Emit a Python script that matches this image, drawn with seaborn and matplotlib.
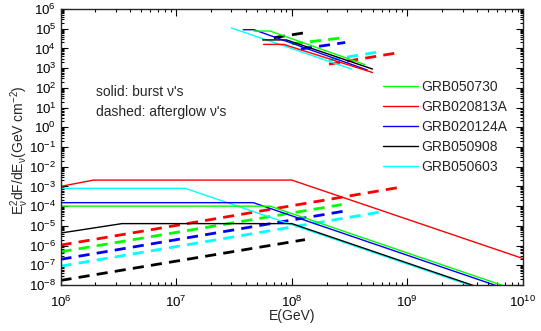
import numpy as np
import pandas as pd
import matplotlib
matplotlib.use("Agg")
import matplotlib.pyplot as plt
from matplotlib.ticker import LogLocator, NullFormatter, LogFormatterMathtext
import seaborn as sns

# ---------------- data ----------------
grbs = ["GRB050730", "GRB020813A", "GRB020124A", "GRB050908", "GRB050603"]
colors = ["#00ff00", "#ff0000", "#0000ff", "#000000", "#00ffff"]

# burst neutrinos, lower set (solid)
burst_E = {
    "GRB050730": [1e6, 6.5e7, 1e10],
    "GRB020813A": [1e6, 1.93e6, 1e8, 1e10],
    "GRB020124A": [1e6, 4.65e7, 1e10],
    "GRB050908": [1e6, 3.4e6, 1e8, 1e10],
    "GRB050603": [1e6, 1.2e7, 1e10],
}
burst_F = {
    "GRB050730": [1e-4, 1e-4, 4.2e-9],
    "GRB020813A": [1.0e-3, 2.1e-3, 2.1e-3, 2.2e-7],
    "GRB020124A": [1.5e-4, 1.5e-4, 3.2e-9],
    "GRB050908": [4.3e-6, 1.3e-5, 1.3e-5, 1.3e-9],
    "GRB050603": [8e-4, 8e-4, 1.15e-9],
}
# afterglow neutrinos, lower set (dashed)
after_E = {
    "GRB050730": [1e6, 2.7e8],
    "GRB020813A": [1e6, 8.1e8],
    "GRB020124A": [1e6, 2.9e8],
    "GRB050908": [1e6, 1.3e8],
    "GRB050603": [1e6, 5.8e8],
}
after_F = {
    "GRB050730": [4.8e-7, 1.2e-4],
    "GRB020813A": [1.05e-6, 8.5e-4],
    "GRB020124A": [2e-7, 5.7e-5],
    "GRB050908": [1.7e-8, 2.0e-6],
    "GRB050603": [9e-8, 5.0e-5],
}
# upper set, burst (solid)
burst2_E = {
    "GRB050730": [4.7e7, 6.5e7, 4.3e8],
    "GRB020813A": [5.7e7, 8.5e7, 5.0e8],
    "GRB020124A": [3.8e7, 4.7e7, 4.5e8],
    "GRB050908": [5.6e7, 9.0e7, 5.0e8],
    "GRB050603": [3.0e7, 3.3e8],
}
burst2_F = {
    "GRB050730": [7.6e4, 7.6e4, 1.5e3],
    "GRB020813A": [1.6e4, 1.6e4, 6.0e2],
    "GRB020124A": [8.9e4, 8.9e4, 8.0e2],
    "GRB050908": [2.7e4, 2.7e4, 9.0e2],
    "GRB050603": [1.1e5, 9.0e2],
}
# upper set, afterglow (dashed)
after2_E = {
    "GRB050730": [1.0e8, 2.7e8],
    "GRB020813A": [2.1e8, 8.1e8],
    "GRB020124A": [1.2e8, 2.9e8],
    "GRB050908": [7.0e7, 1.35e8],
    "GRB050603": [2.1e8, 5.8e8],
}
after2_F = {
    "GRB050730": [1.7e4, 3.4e4],
    "GRB020813A": [1.6e3, 5.9e3],
    "GRB020124A": [9.4e3, 2.0e4],
    "GRB050908": [3.5e4, 6.5e4],
    "GRB050603": [2.6e3, 6.8e3],
}

# ---------------- style ----------------
sns.set_style("ticks")
FONT = "Liberation Sans"
plt.rcParams["font.family"] = [FONT, "DejaVu Sans"]
plt.rcParams["mathtext.fontset"] = "custom"
plt.rcParams["mathtext.rm"] = FONT
plt.rcParams["mathtext.it"] = FONT + ":italic"
plt.rcParams["mathtext.bf"] = FONT + ":bold"
plt.rcParams["mathtext.sf"] = FONT
plt.rcParams["mathtext.default"] = "regular"

fig = plt.figure(figsize=(5.41, 3.31), dpi=100)
ax = fig.add_axes([60.5 / 541, 1 - 285 / 331, (523 - 60.5) / 541, (285 - 9) / 331])

order = ["GRB050603", "GRB050908", "GRB020124A", "GRB020813A", "GRB050730"]
for g in order:
    c = colors[grbs.index(g)]
    for E, F in ((after_E[g], after_F[g]), (after2_E[g], after2_F[g])):
        df = pd.DataFrame({"E": E, "F": F})
        sns.lineplot(data=df, x="E", y="F", ax=ax, color=c, lw=2.0, estimator=None, sort=False)
        ax.lines[-1].set_dashes((4, 2.6))

handles = {}
for g in order:
    c = colors[grbs.index(g)]
    df = pd.DataFrame({"E": burst_E[g], "F": burst_F[g]})
    sns.lineplot(data=df, x="E", y="F", ax=ax, color=c, lw=1.0, estimator=None, sort=False)
    handles[g] = ax.lines[-1]
    df = pd.DataFrame({"E": burst2_E[g], "F": burst2_F[g]})
    sns.lineplot(data=df, x="E", y="F", ax=ax, color=c, lw=1.0, estimator=None, sort=False)

ax.set_xscale("log")
ax.set_yscale("log")
ax.set_xlim(1e6, 1e10)
ax.set_ylim(1e-8, 1e6)

ax.xaxis.set_major_locator(LogLocator(base=10, numticks=20))
ax.yaxis.set_major_locator(LogLocator(base=10, numticks=30))
ax.xaxis.set_minor_locator(LogLocator(base=10, subs=np.arange(2, 10), numticks=200))
ax.yaxis.set_minor_locator(LogLocator(base=10, subs=np.arange(2, 10), numticks=300))
ax.xaxis.set_minor_formatter(NullFormatter())
ax.yaxis.set_minor_formatter(NullFormatter())
ax.xaxis.set_major_formatter(LogFormatterMathtext())
ax.yaxis.set_major_formatter(LogFormatterMathtext())
ax.tick_params(which="both", direction="in", top=True, right=True, labelsize=9.6,
               width=0.8, colors="black")
ax.tick_params(which="major", length=5, pad=3)
ax.tick_params(axis="x", which="major", pad=7)
ax.tick_params(which="minor", length=2.5)
for s in ax.spines.values():
    s.set_linewidth(1.0)

ax.set_xlabel("E(GeV)", fontsize=10, labelpad=-1)
ax.set_ylabel(r"E$_{\nu}^{2}$dF/dE$_{\nu}$(GeV cm$^{-2}$)", fontsize=10)
ax.yaxis.label.set_verticalalignment("center")
ax.yaxis.set_label_coords((20 - 60.5) / 462.5, 0.49)

ax.text(96 / 541, 1 - 92 / 331, "solid: burst ν's", transform=fig.transFigure,
        fontsize=10, va="center", ha="left")
ax.text(96 / 541, 1 - 112 / 331, "dashed: afterglow ν's", transform=fig.transFigure,
        fontsize=10, va="center", ha="left")

leg = ax.legend([handles[g] for g in grbs], grbs, loc="upper left",
                bbox_to_anchor=(380 / 541, 1 - 77 / 331), bbox_transform=fig.transFigure,
                frameon=False, fontsize=10, handlelength=2.5, handletextpad=0.3,
                labelspacing=0.43, borderpad=0.2, borderaxespad=0)

fig.savefig("out.png", dpi=100)
